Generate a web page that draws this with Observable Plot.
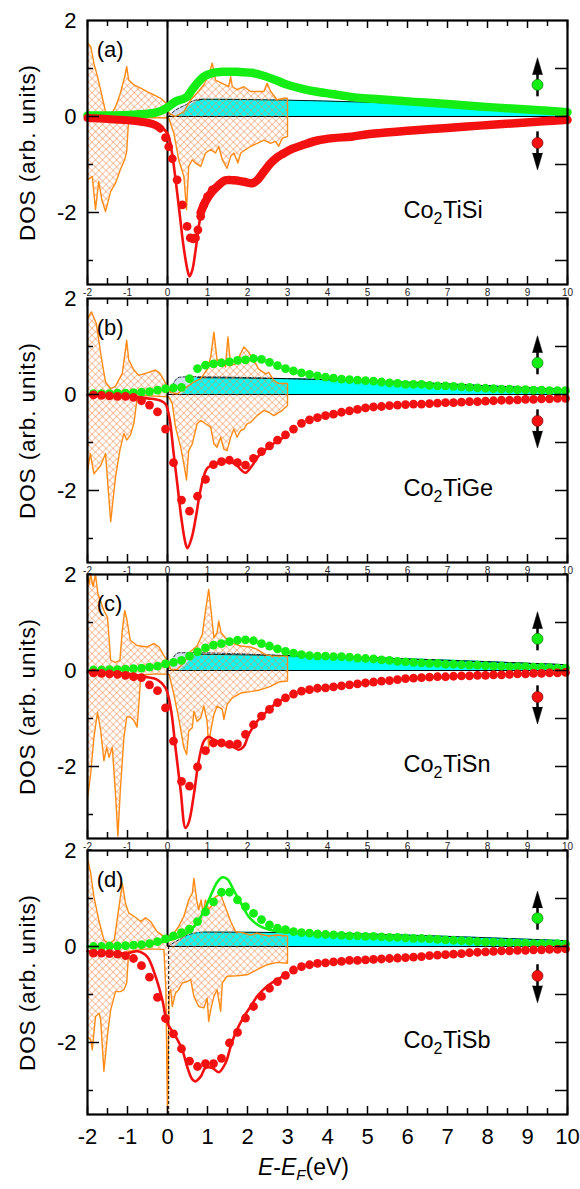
<!DOCTYPE html>
<html><head><meta charset="utf-8">
<script src="https://cdn.jsdelivr.net/npm/d3@7"></script>
<script src="https://cdn.jsdelivr.net/npm/@observablehq/plot@0.6"></script>
<style>
html,body{margin:0;padding:0;background:#fff;}
#root{position:relative;width:580px;height:1189px;overflow:hidden;font-family:"Liberation Sans",Arial,sans-serif;}
#root svg{position:absolute;left:0;}
#xtitle{position:absolute;top:1156px;left:258px;font-size:23px;line-height:1;white-space:nowrap;color:#000;}
#xtitle sub{font-size:15px;vertical-align:-5px;}
</style></head>
<body><div id="root"><div id="xtitle"><i>E</i>-<i>E</i><sub><i>F</i></sub>(eV)</div></div>
<script>
// ---------- axes / labels ----------
const xTicks = [-2,-1,0,1,2,3,4,5,6,7,8,9,10];
const xTickLabels = ["-2","-1","0","1","2","3","4","5","6","7","8","9","10"];
const yTicks = [2,0,-2];
const yTickLabels = ["2","0","-2"];
const yInts = [1,0,-1,-2,-3];
const panelTags = ["(a)","(b)","(c)","(d)"];
const compoundHead = "Co", compoundSub = "2";
const compoundTails = ["TiSi","TiGe","TiSn","TiSb"];
const yTitle = "DOS (arb. units)";
const panelTops = [20, 298, 574, 850];
const spinUpY = [0.66, 0.66, 0.66, 0.59];
const spinDnY = [-0.55, -0.55, -0.55, -0.61];
const spinX = 9.25;

// ---------- calculated DOS (orange hatched) ----------
const dosUpA = [[-2,1.53],[-1.92,1.46],[-1.84,1.11],[-1.75,0.83],[-1.67,0.55],[-1.55,0.1],[-1.42,0.03],[-1.3,0.2],[-1.18,0.48],[-1.07,0.83],[-1.02,1.04],[-0.97,0.76],[-0.84,0.66],[-0.67,0.59],[-0.51,0.52],[-0.34,0.45],[-0.17,0.38],[-0.04,0.28],[0.04,0.07],[0.2,0],[0.41,0.1],[0.58,0.35],[0.74,0.49],[0.91,0.66],[1.03,0.87],[1.12,1.11],[1.2,0.76],[1.37,0.69],[1.53,0.62],[1.58,0.83],[1.62,0.62],[1.74,0.56],[1.91,0.62],[2.08,0.52],[2.24,0.52],[2.41,0.52],[2.49,0.69],[2.58,0.52],[2.74,0.35],[2.91,0.38],[3.0,0.38],[3.0,0]];
const dosDnA = [[-2,-1.32],[-1.88,-1.25],[-1.8,-1.94],[-1.72,-1.35],[-1.64,-1.74],[-1.55,-1.98],[-1.42,-1.56],[-1.3,-1.39],[-1.18,-1.11],[-1.07,-0.9],[-1.02,-0.73],[-0.97,-0.03],[-0.5,-0.02],[0.03,-0.03],[0.16,-0.35],[0.28,-0.9],[0.41,-1.25],[0.475,-1.94],[0.53,-1.04],[0.62,-0.9],[0.7,-0.97],[0.83,-1.04],[0.95,-0.76],[1.08,-0.69],[1.2,-0.76],[1.28,-0.62],[1.37,-0.9],[1.49,-1.08],[1.58,-0.83],[1.66,-0.76],[1.76,-0.97],[1.83,-0.76],[1.95,-0.69],[2.08,-0.62],[2.24,-0.56],[2.41,-0.49],[2.58,-0.56],[2.7,-0.52],[2.78,-0.62],[2.87,-0.45],[3.0,-0.42],[3.0,0]];
const dosUpB = [[-2,1.58],[-1.9,1.72],[-1.78,1.48],[-1.67,0.85],[-1.55,0.26],[-1.42,0.12],[-1.3,0.17],[-1.13,0.44],[-1.02,1.13],[-0.97,0.72],[-0.84,0.51],[-0.72,0.40],[-0.51,0.45],[-0.3,0.51],[-0.19,0.44],[-0.09,0.30],[0,0.16],[0.08,0.05],[0.24,0.01],[0.41,0.12],[0.66,0.26],[0.83,0.33],[1.0,0.53],[1.08,0.78],[1.16,1.30],[1.24,0.71],[1.37,0.74],[1.45,0.57],[1.51,1.2],[1.58,0.6],[1.7,0.64],[1.91,0.99],[2.03,0.88],[2.16,0.71],[2.28,0.53],[2.45,0.43],[2.53,0.46],[2.66,0.29],[2.78,0.23],[3.0,0.23],[3.0,0]];
const dosDnB = [[-2,-1.61],[-1.93,-1.23],[-1.84,-1.65],[-1.67,-1.48],[-1.55,-1.23],[-1.42,-2.65],[-1.3,-1.72],[-1.19,-1.16],[-1.09,-0.81],[-1.02,-0.95],[-0.93,-0.85],[-0.84,-0.6],[-0.76,-0.08],[-0.6,-0.02],[0.03,-0.05],[0.12,-0.19],[0.2,-0.68],[0.33,-1.10],[0.41,-1.45],[0.475,-1.78],[0.53,-1.17],[0.62,-1.03],[0.74,-0.61],[0.83,-0.54],[0.95,-0.61],[1.08,-0.68],[1.16,-1.03],[1.24,-1.10],[1.33,-0.89],[1.41,-1.14],[1.49,-1.17],[1.58,-0.89],[1.66,-0.72],[1.74,-0.89],[1.83,-0.75],[1.91,-0.72],[1.99,-0.61],[2.08,-0.58],[2.24,-0.44],[2.41,-0.33],[2.53,-0.37],[2.66,-0.44],[2.74,-0.40],[2.87,-0.33],[3.0,-0.23],[3.0,0]];
const dosUpC = [[-2,2],[-1.96,1.8],[-1.92,2],[-1.86,1.75],[-1.8,2],[-1.74,1.6],[-1.59,1.25],[-1.5,1.11],[-1.42,0.21],[-1.3,0.17],[-1.19,0.21],[-1.13,0.83],[-1.07,1.25],[-1.02,1.08],[-0.93,0.63],[-0.76,0.52],[-0.51,0.49],[-0.34,0.56],[-0.21,0.49],[-0.09,0.31],[0,0.21],[0.08,0.02],[0.24,0.02],[0.41,0.16],[0.58,0.4],[0.74,0.51],[0.87,0.75],[0.95,1.24],[1.03,1.69],[1.09,1.24],[1.16,0.68],[1.24,0.79],[1.28,1.03],[1.34,0.79],[1.45,0.68],[1.58,0.58],[1.83,0.51],[2.08,0.49],[2.24,0.44],[2.45,0.33],[2.62,0.30],[3.0,0.30],[3.0,0]];
const dosDnC = [[-2,-2.67],[-1.92,-2.15],[-1.84,-1.4],[-1.75,-0.87],[-1.67,-1.25],[-1.59,-1.88],[-1.52,-1.6],[-1.46,-1.81],[-1.38,-1.6],[-1.3,-2.57],[-1.24,-3.45],[-1.18,-2.5],[-1.09,-1.4],[-1.02,-0.97],[-0.93,-0.97],[-0.84,-1.04],[-0.76,-1.18],[-0.71,-0.63],[-0.67,-0.1],[-0.3,-0.07],[0.04,-0.08],[0.16,-0.5],[0.28,-0.99],[0.41,-1.61],[0.48,-1.75],[0.53,-1.26],[0.62,-1.19],[0.66,-0.85],[0.74,-1.06],[0.83,-0.99],[0.91,-0.74],[0.99,-1.06],[1.03,-1.61],[1.08,-1.26],[1.16,-0.92],[1.24,-0.74],[1.37,-0.81],[1.41,-1.02],[1.49,-0.71],[1.62,-0.57],[1.83,-0.47],[2.08,-0.44],[2.33,-0.40],[2.58,-0.33],[2.78,-0.24],[3.0,-0.22],[3.0,0]];
const dosUpD = [[-2,1.84],[-1.92,1.53],[-1.84,1.04],[-1.71,0.52],[-1.59,0.14],[-1.46,0.04],[-1.33,0.14],[-1.2,0.90],[-1.13,1.32],[-1.05,0.90],[-0.97,0.70],[-0.84,0.63],[-0.67,0.52],[-0.55,0.6],[-0.42,0.52],[-0.26,0.31],[-0.09,0.21],[0,0.17],[0.03,0.22],[0.16,0.28],[0.28,0.42],[0.41,0.63],[0.53,0.97],[0.62,1.11],[0.66,1.42],[0.73,0.97],[0.78,0.77],[0.84,0.97],[0.89,0.69],[0.95,0.97],[1.03,0.77],[1.12,0.87],[1.2,1.04],[1.33,1.08],[1.41,0.90],[1.58,0.52],[1.7,0.31],[1.91,0.28],[2.08,0.24],[2.24,0.28],[2.41,0.24],[2.53,0.22],[2.74,0.24],[3.0,0.22],[3.0,0]];
const dosDnD = [[-2,-1.88],[-1.92,-1.94],[-1.88,-2.15],[-1.8,-1.46],[-1.71,-1.39],[-1.67,-1.53],[-1.59,-2.6],[-1.5,-1.84],[-1.42,-1.32],[-1.3,-0.94],[-1.18,-0.94],[-1.09,-0.9],[-1.02,-0.76],[-0.97,-0.1],[-0.5,-0.05],[-0.09,-0.06],[-0.04,-0.9],[0,-3.5],[0.04,-0.97],[0.08,-0.9],[0.12,-1.25],[0.2,-0.97],[0.28,-0.9],[0.37,-0.76],[0.49,-0.73],[0.58,-0.69],[0.66,-1.04],[0.78,-1.25],[0.91,-1.28],[0.99,-1.07],[1.03,-1.56],[1.08,-1.32],[1.16,-1.04],[1.24,-0.9],[1.33,-1.35],[1.37,-0.76],[1.49,-0.62],[1.74,-0.61],[1.99,-0.59],[2.24,-0.48],[2.49,-0.38],[2.74,-0.33],[3.0,-0.35],[3.0,0]];

// ---------- unoccupied spin-up band (light / cyan) ----------
const lightA = [[0.03,0],[0.15,0.1],[0.3,0.18],[0.45,0.24],[0.65,0.33],[0.85,0.36]];
const cyanA  = [[0.15,0],[0.3,0.04],[0.45,0.13],[0.6,0.25],[0.75,0.33],[0.9,0.36],[3,0.34],[10,0.11]];
const lightB = [[0.0,0],[0.1,0.15],[0.2,0.3],[0.3,0.36],[0.6,0.37],[3,0.33],[10,0.1]];
const cyanB  = [[0.35,0],[0.45,0.08],[0.55,0.2],[0.65,0.3],[0.75,0.35],[3,0.33],[10,0.1]];
const lightC = [[0.0,0],[0.1,0.2],[0.2,0.33],[0.3,0.37],[0.6,0.37],[3,0.31],[10,0.12]];
const cyanC  = [[0.3,0],[0.45,0.1],[0.6,0.25],[0.75,0.34],[3,0.31],[10,0.12]];
const lightD = [[0.0,0],[0.1,0.05],[0.2,0.1],[0.35,0.17],[0.5,0.24],[0.7,0.28],[0.9,0.3]];
const cyanD  = [[0.2,0],[0.35,0.12],[0.5,0.22],[0.7,0.28],[0.9,0.3],[3,0.29],[10,0.12]];

// ---------- theory (broadened) curves ----------
const thDnA = [[-2,-0.04],[-1,-0.08],[-0.5,-0.12],[-0.2,-0.2],[0,-0.35],[0.1,-0.7],[0.2,-1.3],[0.3,-2.0],[0.4,-2.7],[0.5,-3.2],[0.55,-3.33],[0.62,-3.2],[0.7,-2.8],[0.8,-2.2],[0.9,-1.85],[1.0,-1.68],[1.2,-1.5],[1.5,-1.35],[2.0,-1.38],[2.2,-1.36],[2.5,-1.05],[3.0,-0.75]];
const thDnB = [[-2,-0.01],[-1,-0.04],[-0.5,-0.08],[-0.2,-0.12],[-0.05,-0.2],[0.05,-0.5],[0.15,-1.2],[0.25,-1.9],[0.35,-2.6],[0.45,-3.1],[0.5,-3.2],[0.6,-3.0],[0.7,-2.6],[0.8,-2.1],[0.9,-1.72],[1.0,-1.53],[1.2,-1.44],[1.5,-1.40],[1.7,-1.45],[1.85,-1.58],[1.95,-1.63],[2.1,-1.5],[2.3,-1.26],[2.6,-1.05],[3.0,-0.85]];
const thDnC = [[-2,-0.03],[-1,-0.07],[-0.5,-0.14],[-0.26,-0.19],[-0.05,-0.36],[0.08,-0.78],[0.2,-1.61],[0.33,-2.51],[0.45,-3.28],[0.53,-3.17],[0.66,-2.58],[0.78,-1.89],[0.91,-1.47],[1.03,-1.38],[1.16,-1.44],[1.41,-1.54],[1.66,-1.6],[1.78,-1.65],[1.91,-1.58],[2.03,-1.33],[2.24,-1.06],[2.49,-0.85],[2.74,-0.67],[3.0,-0.56]];
const thDnD = [[-2,-0.1],[-1,-0.14],[-0.75,-0.1],[-0.51,-0.21],[-0.3,-0.62],[-0.13,-1.11],[0,-1.6],[0.2,-1.87],[0.37,-2.15],[0.49,-2.5],[0.62,-2.77],[0.7,-2.81],[0.83,-2.71],[0.95,-2.53],[1.12,-2.53],[1.28,-2.62],[1.45,-2.43],[1.58,-2.08],[1.7,-1.8],[1.91,-1.46],[2.08,-1.25],[2.24,-1.04],[2.49,-0.83],[2.74,-0.69],[3.0,-0.57]];
const thUpD = [[-2,0.0],[-1,0.01],[-0.5,0.04],[0,0.12],[0.3,0.2],[0.5,0.28],[0.7,0.45],[0.9,0.72],[1.1,1.1],[1.25,1.35],[1.37,1.44],[1.5,1.4],[1.65,1.18],[1.85,0.88],[2.05,0.6],[2.3,0.43],[2.6,0.34],[3.0,0.29]];

// ---------- experiment, panel (a): dense traces ----------
const expUpA = [[-2,0.02],[-1.5,0.02],[-1,0.03],[-0.6,0.05],[-0.3,0.08],[-0.1,0.14],[0,0.19],[0.2,0.31],[0.4,0.37],[0.5,0.42],[0.6,0.54],[0.75,0.7],[0.9,0.83],[1.1,0.9],[1.4,0.93],[1.75,0.93],[2.1,0.91],[2.4,0.85],[2.7,0.76],[3.0,0.66],[3.4,0.57],[3.7,0.52],[4.1,0.47],[4.5,0.42],[4.9,0.38],[5.3,0.36],[6.1,0.31],[7.0,0.26],[7.8,0.21],[8.7,0.16],[9.1,0.14],[10,0.09]];
const expDnLowA = [[-2,-0.03],[-1.5,-0.05],[-1,-0.08],[-0.5,-0.13],[-0.3,-0.18],[-0.18,-0.25]];
const expDnDotsA = [[-0.05,-0.44],[0.03,-0.63],[0.12,-0.88],[0.24,-1.32],[0.37,-1.84],[0.49,-2.29],[0.57,-2.53],[0.64,-2.55],[0.7,-2.53],[0.76,-2.36],[0.83,-2.08],[0.91,-1.84],[1.0,-1.67],[1.12,-1.53]];
const expDnHighA = [[0.83,-2.0],[0.95,-1.77],[1.08,-1.6],[1.24,-1.46],[1.45,-1.33],[1.66,-1.33],[1.91,-1.36],[2.12,-1.39],[2.24,-1.33],[2.41,-1.15],[2.58,-0.97],[2.74,-0.85],[2.9,-0.77],[3.1,-0.68],[3.4,-0.59],[3.75,-0.5],[4.15,-0.45],[4.6,-0.42],[5.0,-0.37],[5.4,-0.34],[6.1,-0.29],[7.0,-0.24],[7.8,-0.19],[8.7,-0.14],[9.4,-0.1],[10,-0.07]];

// ---------- experiment, panels (b)-(d): dots every 0.2 eV from -1.85 eV ----------
const dotStart = -1.85, dotStep = 0.2;
const expUpB = [0.02,0.02,0.02,0.03,0.03,0.04,0.05,0.06,0.09,0.12, 0.14,0.15,0.33,0.54,0.61,0.64,0.66,0.68,0.71,0.72, 0.75,0.73,0.67,0.60,0.54,0.49,0.45,0.42,0.39,0.36, 0.34,0.32,0.31,0.30,0.29,0.28,0.26,0.24,0.23,0.21, 0.21,0.21,0.19,0.18,0.18,0.17,0.16,0.15,0.14,0.13, 0.12,0.11,0.11,0.10,0.10,0.09,0.09,0.08,0.08,0.08];
const expDnB = [-0.01,-0.02,-0.03,-0.04,-0.04,-0.06,-0.13,-0.22,-0.36,-0.72, -1.42,-2.20,-2.43,-2.12,-1.77,-1.46,-1.40,-1.37,-1.42,-1.47, -1.33,-1.19,-1.07,-0.95,-0.84,-0.72,-0.60,-0.53,-0.48,-0.44, -0.41,-0.37,-0.34,-0.31,-0.28,-0.26,-0.25,-0.23,-0.22,-0.21, -0.20,-0.20,-0.19,-0.18,-0.17,-0.17,-0.16,-0.15,-0.15,-0.14, -0.13,-0.12,-0.12,-0.11,-0.10,-0.10,-0.09,-0.09,-0.08,-0.08];
const expUpC = [0.01,0.01,0.02,0.02,0.03,0.04,0.05,0.07,0.09,0.14, 0.17,0.21,0.30,0.39,0.47,0.53,0.56,0.60,0.63,0.64, 0.62,0.56,0.51,0.45,0.40,0.36,0.33,0.31,0.30,0.30, 0.29,0.29,0.28,0.26,0.25,0.24,0.22,0.21,0.19,0.18, 0.17,0.16,0.15,0.15,0.13,0.13,0.12,0.11,0.11,0.10, 0.09,0.09,0.08,0.08,0.08,0.07,0.07,0.06,0.05,0.05];
const expDnC = [-0.05,-0.06,-0.07,-0.08,-0.10,-0.13,-0.15,-0.30,-0.42,-0.78, -1.47,-2.31,-2.41,-2.01,-1.67,-1.51,-1.51,-1.54,-1.53,-1.33, -1.13,-0.95,-0.81,-0.67,-0.57,-0.49,-0.43,-0.40,-0.37,-0.36, -0.34,-0.32,-0.30,-0.28,-0.26,-0.24,-0.22,-0.21,-0.19,-0.17, -0.16,-0.15,-0.14,-0.13,-0.13,-0.12,-0.11,-0.11,-0.10,-0.10, -0.09,-0.09,-0.08,-0.07,-0.07,-0.06,-0.06,-0.05,-0.05,-0.04];
const expUpD = [0.00,0.00,0.01,0.01,0.02,0.03,0.04,0.06,0.10,0.16, 0.22,0.29,0.36,0.52,0.72,0.93,1.13,1.13,0.97,0.83, 0.69,0.56,0.45,0.38,0.35,0.31,0.29,0.28,0.26,0.25, 0.24,0.23,0.22,0.22,0.21,0.21,0.20,0.19,0.19,0.18, 0.17,0.17,0.16,0.15,0.14,0.13,0.12,0.11,0.10,0.09, 0.09,0.08,0.08,0.07,0.07,0.06,0.06,0.06,0.06,0.05];
const expDnD = [-0.14,-0.14,-0.15,-0.16,-0.19,-0.25,-0.40,-0.64,-1.06,-1.50, -1.82,-2.13,-2.39,-2.50,-2.44,-2.44,-2.33,-2.01,-1.79,-1.49, -1.25,-1.04,-0.87,-0.73,-0.60,-0.49,-0.42,-0.38,-0.35,-0.34, -0.32,-0.31,-0.29,-0.29,-0.28,-0.27,-0.26,-0.25,-0.24,-0.23, -0.22,-0.21,-0.19,-0.18,-0.17,-0.16,-0.15,-0.13,-0.12,-0.11, -0.10,-0.09,-0.09,-0.08,-0.08,-0.07,-0.07,-0.06,-0.06,-0.05];

// ---------- assemble ----------
const toPts = vals => vals.map((v, i) => [dotStart + i * dotStep, v]);
const panels = [
  {dosUp: dosUpA, dosDn: dosDnA, light: lightA, cyan: cyanA, thDn: thDnA, thUp: null, dense: true},
  {dosUp: dosUpB, dosDn: dosDnB, light: lightB, cyan: cyanB, thDn: thDnB, thUp: null, up: toPts(expUpB), dn: toPts(expDnB)},
  {dosUp: dosUpC, dosDn: dosDnC, light: lightC, cyan: cyanC, thDn: thDnC, thUp: null, up: toPts(expUpC), dn: toPts(expDnC)},
  {dosUp: dosUpD, dosDn: dosDnD, light: lightD, cyan: cyanD, thDn: thDnD, thUp: thUpD, up: toPts(expUpD), dn: toPts(expDnD), fermiDashed: true}
];

const GREEN = "#14ee14", RED = "#f21010", ORANGE = "#ff8a14";
const X = d => d[0], Y = d => d[1];
const xDom = [-2, 10], yDom = [-3.5, 2];
const plotH = 264, pxPerY = plotH / (yDom[1] - yDom[0]), pxPerX = (580 - 87 - 13) / (xDom[1] - xDom[0]);
const xHalf = d3.range(xDom[0], xDom[1] + 0.001, 0.5);
const root = document.getElementById("root");

panels.forEach((p, i) => {
  const last = i === 3;
  const mt = 20, mb = last ? 40 : 16;
  const hatch = `url(#hatch${i})`;
  const marks = [
    Plot.areaY(p.light, {x: X, y: Y, fill: "#d3dff0", curve: "monotone-x"}),
    Plot.areaY(p.cyan, {x: X, y: Y, fill: "#00ffff", curve: "monotone-x"}),
    Plot.line(p.light, {x: X, y: Y, stroke: "#000", strokeWidth: 0.8, strokeDasharray: "3,2", curve: "monotone-x"}),
    Plot.line(p.cyan, {x: X, y: Y, filter: d => d[0] >= 0.75, stroke: "#000", strokeWidth: 0.9, curve: "monotone-x"}),
    Plot.ruleY([0], {x1: 0, x2: xDom[1], stroke: "#000", strokeWidth: 1}),
    Plot.areaY(p.dosUp, {x: X, y: Y, fill: hatch}),
    Plot.areaY(p.dosDn, {x: X, y: Y, fill: hatch}),
    Plot.line(p.dosUp, {x: X, y: Y, stroke: ORANGE, strokeWidth: 1.4}),
    Plot.line(p.dosDn, {x: X, y: Y, stroke: ORANGE, strokeWidth: 1.4}),
  ];
  if (p.fermiDashed) {
    marks.push(Plot.ruleX([0], {y1: 0, y2: yDom[1], stroke: "#000", strokeWidth: 2}));
    marks.push(Plot.ruleX([0.03], {y1: yDom[0], y2: 0, stroke: "#000", strokeWidth: 1, strokeDasharray: "3,2"}));
  } else {
    marks.push(Plot.ruleX([0], {y1: yDom[0], y2: yDom[1], stroke: "#000", strokeWidth: 2}));
  }
  if (p.dense) {
    marks.push(Plot.line(expUpA, {x: X, y: Y, stroke: GREEN, strokeWidth: 8.5, strokeLinecap: "round", curve: "catmull-rom"}));
    marks.push(Plot.line(expDnLowA, {x: X, y: Y, stroke: RED, strokeWidth: 8, strokeLinecap: "round", curve: "catmull-rom"}));
    marks.push(Plot.line(expDnHighA, {x: X, y: Y, stroke: RED, strokeWidth: 8.5, strokeLinecap: "round", curve: "catmull-rom"}));
    marks.push(Plot.dot(expDnDotsA, {x: X, y: Y, r: 4.4, fill: RED}));
  } else {
    marks.push(Plot.dot(p.up, {x: X, y: Y, r: 4.4, fill: GREEN}));
    marks.push(Plot.dot(p.dn, {x: X, y: Y, r: 4.4, fill: RED}));
  }
  marks.push(Plot.line(p.thDn, {x: X, y: Y, stroke: RED, strokeWidth: 2.6, curve: "catmull-rom"}));
  if (p.thUp) marks.push(Plot.line(p.thUp, {x: X, y: Y, stroke: GREEN, strokeWidth: 2.6, curve: "catmull-rom"}));

  const uy = spinUpY[i], dy = spinDnY[i];
  marks.push(
    Plot.ruleX([spinX], {y1: uy - 0.25, y2: uy + 0.23, stroke: "#000", strokeWidth: 2.5}),
    Plot.vector([[spinX, uy + 0.21]], {x: X, y: Y, length: 17, rotate: 0, anchor: "start", shape: "spike", r: 5, fill: "#000", stroke: "#000", strokeWidth: 0.5}),
    Plot.dot([[spinX, uy]], {x: X, y: Y, r: 5.5, fill: GREEN, stroke: "#0a7a0a", strokeWidth: 0.7}),
    Plot.ruleX([spinX], {y1: dy - 0.23, y2: dy + 0.23, stroke: "#000", strokeWidth: 2.5}),
    Plot.vector([[spinX, dy - 0.21]], {x: X, y: Y, length: 17, rotate: 180, anchor: "start", shape: "spike", r: 5, fill: "#000", stroke: "#000", strokeWidth: 0.5}),
    Plot.dot([[spinX, dy]], {x: X, y: Y, r: 5.5, fill: RED, stroke: "#7a0a0a", strokeWidth: 0.7})
  );

  marks.push(
    Plot.frame({stroke: "#000", strokeWidth: 2.2}),
    Plot.ruleX(xHalf, {x: d => d, y1: yDom[1], y2: d => yDom[1] - (Number.isInteger(d) ? 8 : 6) / pxPerY, stroke: "#000", strokeWidth: 1.5}),
    Plot.ruleX(xHalf, {x: d => d, y1: yDom[0], y2: d => yDom[0] + (Number.isInteger(d) ? 8 : 6) / pxPerY, stroke: "#000", strokeWidth: 1.5}),
    Plot.ruleY(yInts, {y: d => d, x1: xDom[0], x2: d => xDom[0] + (d % 2 === 0 ? 12 : 6) / pxPerX, stroke: "#000", strokeWidth: 1.5}),
    Plot.ruleY(yInts, {y: d => d, x1: d => xDom[1] - 12 / pxPerX, x2: xDom[1], stroke: "#000", strokeWidth: 1.5})
  );
  marks.push(Plot.text(yTicks, {x: xDom[0], y: d => d, text: (d, k) => yTickLabels[k], textAnchor: "end", dx: -11, fontSize: 22}));
  if (last) {
    marks.push(Plot.text(xTicks, {x: d => d, y: yDom[0], text: (d, k) => xTickLabels[k], dy: 22, fontSize: 22}));
  } else {
    marks.push(Plot.text(xTicks, {x: d => d, y: yDom[0], text: (d, k) => xTickLabels[k], dy: 8, fontSize: 10, fill: "#222"}));
  }
  marks.push(
    Plot.text([yTitle], {frameAnchor: "left", textAnchor: "middle", text: d => d, rotate: -90, dx: -60, fontSize: 22.5}),
    Plot.text([panelTags[i]], {x: -1.77, y: 1.38, text: d => d, textAnchor: "start", fontSize: 22}),
    Plot.text([compoundHead], {x: 5.9, y: -1.95, text: d => d, textAnchor: "start", fontSize: 23.5}),
    Plot.text([compoundSub], {x: 5.9, y: -1.95, text: d => d, textAnchor: "start", dx: 30, dy: 9, fontSize: 16}),
    Plot.text([compoundTails[i]], {x: 5.9, y: -1.95, text: d => d, textAnchor: "start", dx: 39.5, fontSize: 23.5})
  );

  const svg = Plot.plot({
    width: 580, height: mt + plotH + mb,
    marginLeft: 87, marginRight: 13, marginTop: mt, marginBottom: mb,
    x: {domain: xDom, axis: null},
    y: {domain: yDom, axis: null},
    style: {background: "transparent", fontFamily: "'Liberation Sans', Arial, sans-serif", overflow: "visible"},
    marks
  });
  const ns = "http://www.w3.org/2000/svg";
  const defs = document.createElementNS(ns, "defs");
  defs.innerHTML = `<pattern id="hatch${i}" patternUnits="userSpaceOnUse" width="5" height="5" patternTransform="rotate(45)"><path d="M0,0H5M0,0V5" stroke="#f0884a" stroke-width="1.05" fill="none"/></pattern>`;
  svg.insertBefore(defs, svg.firstChild);
  svg.querySelectorAll("text").forEach(t => {
    if (t.textContent === yTitle) t.style.letterSpacing = "0.9px";
  });
  svg.style.top = (panelTops[i] - mt) + "px";
  root.appendChild(svg);
});
</script></body></html>
